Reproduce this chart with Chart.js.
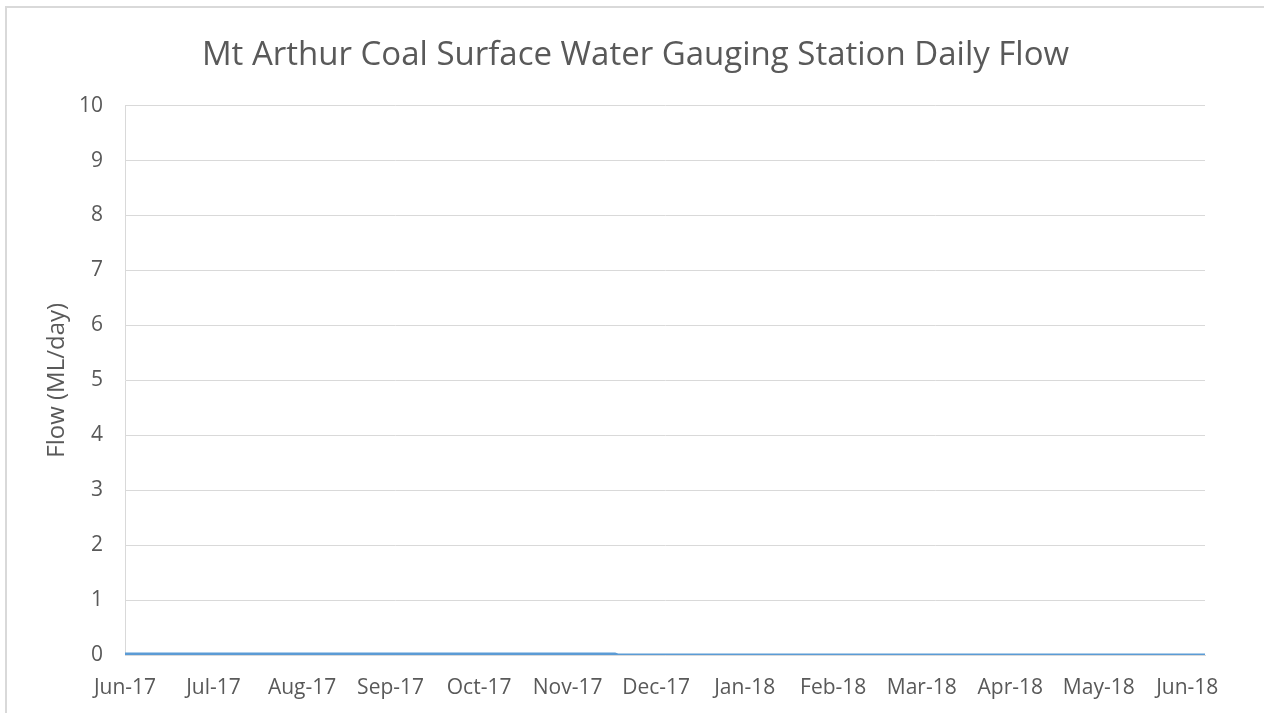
<!DOCTYPE html>
<html>
<head>
<meta charset="utf-8">
<script src="https://cdn.jsdelivr.net/npm/chart.js@4"></script>
<style>
  html, body { margin: 0; padding: 0; background: #fff; }
  #wrap { position: relative; width: 1264px; height: 713px; overflow: hidden; }
  #frame { position: absolute; left: 5px; top: 6px; width: 1300px; height: 800px; border: 2px solid #d9d9d9; box-sizing: border-box; }
  #flow { position: absolute; left: 0; top: 0; }
</style>
</head>
<body>
<div id="wrap">
  <div id="frame"></div>
  <canvas id="flow" width="1264" height="713"></canvas>
</div>
<script>
// month labels on the x axis, Jun-17 .. Jun-18 (one per month, evenly spaced)
const monthLabels = ["Jun-17", "Jul-17", "Aug-17", "Sep-17", "Oct-17", "Nov-17", "Dec-17",
  "Jan-18", "Feb-18", "Mar-18", "Apr-18", "May-18", "Jun-18"];

// daily flow, only the dates where the value changes
const flowDates = ["2017-06-01", "2017-11-17", "2017-11-18", "2018-06-07"];
const flowValues = [0.02, 0.02, 0, 0];

const yTicks = [0, 1, 2, 3, 4, 5, 6, 7, 8, 9, 10];

// position of a date in months after 1 Jun 2017
function monthPos(s) {
  const [y, m, d] = s.split("-").map(Number);
  const days = new Date(Date.UTC(y, m, 0)).getUTCDate();
  return (y - 2017) * 12 + (m - 6) + (d - 1) / days;
}

const textColor = "#595959";
const gridColor = "#d9d9d9";
const font = "'Open Sans', sans-serif";

new Chart(document.getElementById("flow"), {
  type: "line",
  data: {
    datasets: [{
      label: "Daily Flow",
      data: flowDates.map((d, i) => ({ x: monthPos(d), y: flowValues[i] })),
      borderColor: "#5b9bd5",
      borderWidth: 3,
      pointRadius: 0,
      tension: 0,
    }],
  },
  options: {
    responsive: false,
    animation: false,
    layout: { padding: { left: 66, right: 59, top: 0, bottom: 8 } },
    plugins: {
      legend: { display: false },
      tooltip: { enabled: false },
      title: {
        display: true,
        text: "Mt Arthur Coal Surface Water Gauging Station Daily Flow",
        color: textColor,
        font: { family: font, size: 33, weight: "normal" },
        padding: { top: 36, bottom: 30 },
      },
    },
    scales: {
      x: {
        type: "linear",
        min: monthPos(flowDates[0]),
        max: monthPos(flowDates[flowDates.length - 1]),
        afterBuildTicks: (s) => { s.ticks = monthLabels.map((_, i) => ({ value: i })); },
        ticks: {
          callback: (v) => monthLabels[v],
          color: textColor,
          font: { family: font, size: 21 },
          padding: 20,
          maxRotation: 0,
          autoSkip: false,
        },
        grid: { display: false, drawTicks: false },
        border: { display: true, color: gridColor, width: 1 },
        afterFit: (s) => { s.height = 50; },
      },
      y: {
        min: 0,
        max: 10,
        afterBuildTicks: (s) => { s.ticks = yTicks.map((v) => ({ value: v })); },
        ticks: {
          color: textColor,
          font: { family: font, size: 21 },
          padding: 22,
        },
        grid: { color: gridColor, lineWidth: 1, drawTicks: false },
        border: { display: true, color: gridColor, width: 1 },
        title: {
          display: true,
          text: "Flow (ML/day)",
          color: textColor,
          font: { family: font, size: 24 },
          padding: { top: -23, bottom: 0 },
        },
        afterFit: (s) => { s.width = 59; },
      },
    },
  },
});
</script>
</body>
</html>
